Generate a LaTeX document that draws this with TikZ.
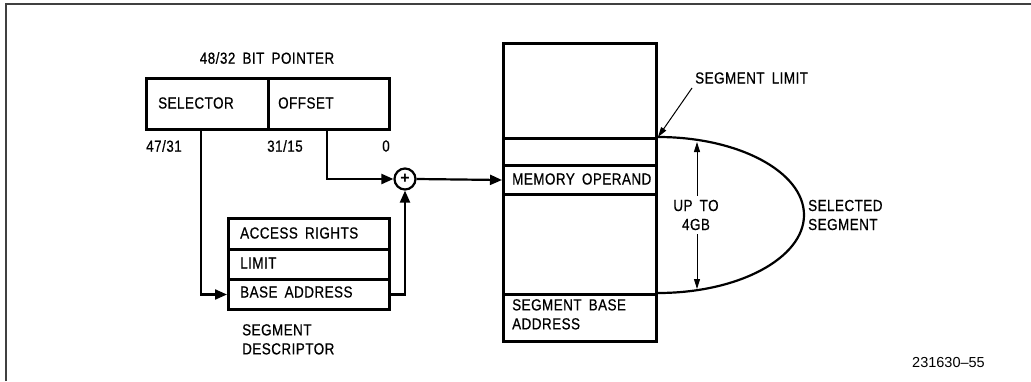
\documentclass[tikz,border=0pt]{standalone}
\usepackage{fontspec}
\setmainfont{Liberation Sans}
\newfontfamily\cadfont[FakeStretch=0.84,FakeBold=0.6,LetterSpace=3,WordSpace=1.7]{Liberation Sans}
\usetikzlibrary{arrows.meta,calc}
\begin{document}
\begin{tikzpicture}[x=1pt,y=-1pt,
  box/.style={draw, line width=3pt, rectangle, inner sep=0pt, anchor=north west},
  lbl/.style={font=\cadfont\fontsize{16}{19}\selectfont, inner sep=0pt, anchor=west},
  conn/.style={line width=2.2pt, -{Triangle[length=12pt,width=10pt]}},
  leader/.style={line width=1pt, -{Triangle[length=10pt,width=6pt]}},
  frame/.style={draw=black!75, line width=2pt}]
\useasboundingbox (0,0) rectangle (1031,381);
\draw[frame] (6,381) -- (6,4) -- (1031,4);
% pointer
\node[lbl, anchor=center] (ptrttl) at (267,58) {48/32 BIT POINTER};
\node[box, minimum width=122pt, minimum height=51pt] (sel) at (145,77) {};
\node[box, minimum width=121pt, minimum height=51pt] (off) at (267,77) {};
\node[lbl] (seltxt) at (158,103) {SELECTOR};
\node[lbl] (offtxt) at (278,103) {OFFSET};
\node[lbl] (b47) at (146,146) {47/31};
\node[lbl] (b31) at (267,146) {31/15};
\node[lbl, anchor=center] (b0) at (386,146) {0};
\coordinate (seltap) at (201,128);
\coordinate (offtap) at (327,128);
% descriptor
\node[box, minimum width=161pt, minimum height=31pt] (acc) at (227,217) {};
\node[box, minimum width=161pt, minimum height=30pt] (lim) at (227,248) {};
\node[box, minimum width=161pt, minimum height=30pt] (base) at (227,278) {};
\node[lbl] (acctxt) at (240,233) {ACCESS RIGHTS};
\node[lbl] (limtxt) at (240,263) {LIMIT};
\node[lbl] (basetxt) at (240,292) {BASE ADDRESS};
\node[lbl, align=left, anchor=north west] (desctxt) at (242,324) {SEGMENT\\DESCRIPTOR};
% adder
\node[draw, circle, line width=2.2pt, minimum size=21pt, inner sep=0pt, font=\bfseries\fontsize{16}{16}\selectfont] (plus) at (405,179) {+};
% memory
\node[box, minimum width=153pt, minimum height=95pt] (mtop) at (502,42) {};
\node[box, minimum width=153pt, minimum height=27pt] (mrow) at (502,137) {};
\node[box, minimum width=153pt, minimum height=29pt] (mop) at (502,164) {};
\node[box, minimum width=153pt, minimum height=100pt] (mmid) at (502,193) {};
\node[box, minimum width=153pt, minimum height=47pt] (mbase) at (502,293) {};
\node[lbl] (moptxt) at (512,179) {MEMORY OPERAND};
\node[lbl, align=left, anchor=north west] (mbasetxt) at (512,299) {SEGMENT BASE\\ADDRESS};
% connectors
\draw[conn] (seltap) |- (base.west);
\draw[conn] (offtap) |- (plus.west);
\draw[conn] (base.east) -| (plus.south);
\draw[conn] (plus.east) -- (mop.west);
% selected segment
\draw[line width=2.2pt] (mrow.north east) arc[start angle=-90, end angle=90, x radius=146, y radius=78];
\node[lbl] (seglim) at (695,78) {SEGMENT LIMIT};
\coordinate (seglimtail) at (692,88);
\draw[leader] (seglimtail) -- (mrow.north east);
\node[lbl, align=center, anchor=center, inner ysep=4pt] (upto) at (696,215) {UP TO\\4GB};
\coordinate (uptotop) at (697,142);
\coordinate (uptobot) at (697,289);
\draw[leader] (upto.north -| uptotop) -- (uptotop);
\draw[leader] (upto.south -| uptobot) -- (uptobot);
\node[lbl, align=left] (seltd) at (808,215) {SELECTED\\SEGMENT};
\node[font=\fontsize{14.5}{17}\selectfont, inner sep=0pt, anchor=east] (fig) at (985,363) {231630--55};
\end{tikzpicture}
\end{document}
